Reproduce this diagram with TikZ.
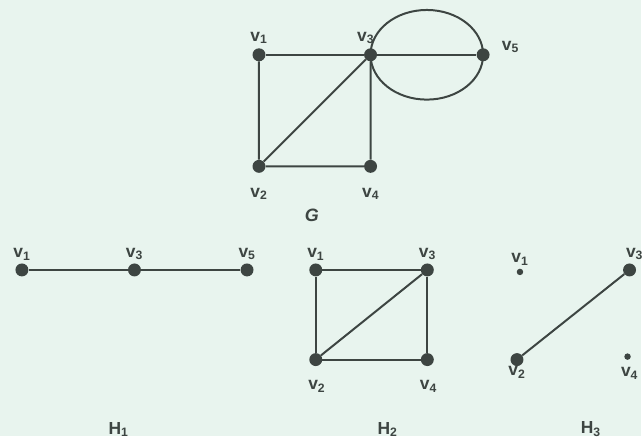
\documentclass[tikz,border=0pt]{standalone}
\usepackage{fontspec}
\setmainfont{Liberation Sans}
\usetikzlibrary{positioning}
\definecolor{ink}{RGB}{61,69,66}
\definecolor{paper}{RGB}{232,244,238}

\begin{document}
\begin{tikzpicture}[x=1pt,y=-1pt,
  vtx/.style={circle, fill=ink, inner sep=0pt, minimum size=13pt},
  pt/.style={circle, fill=ink, inner sep=0pt, minimum size=6.5pt},
  lbl/.style={text=ink, font=\fontsize{17.5}{19}\selectfont\bfseries, inner sep=1pt},
  ttl/.style={text=ink, font=\fontsize{17.5}{19}\selectfont\bfseries},
  edge/.style={draw=ink, line width=2pt}]
  \fill[paper] (0,0) rectangle (644,438);
  % graph G
  \node[vtx] (g1) at (260,55) {};
  \node[vtx] (g3) at (372,55) {};
  \node[vtx] (g5) at (485,55) {};
  \node[vtx] (g2) at (260,167) {};
  \node[vtx] (g4) at (372,167) {};
  \draw[edge] (g1) -- (g3) -- (g5);
  \draw[edge] (g1) -- (g2) -- (g4) -- (g3) -- (g2);
  \draw[edge] (428.5,55) ellipse [x radius=56.5, y radius=45];
  \node[lbl, above=3pt of g1] {v\textsubscript{1}};
  \node[lbl, above=3pt of g3, xshift=-5pt] {v\textsubscript{3}};
  \node[lbl, right=11pt of g5, yshift=8pt] {v\textsubscript{5}};
  \node[lbl, below=14pt of g2] {v\textsubscript{2}};
  \node[lbl, below=14pt of g4] {v\textsubscript{4}};
  \node[ttl, font=\fontsize{18}{20}\selectfont\bfseries\itshape] (tg) at (313,216) {G};
  % H1
  \node[vtx] (a1) at (22,271) {};
  \node[vtx] (a3) at (135,271) {};
  \node[vtx] (a5) at (248,271) {};
  \draw[edge] (a1) -- (a3) -- (a5);
  \foreach \n/\i in {a1/1, a3/3, a5/5}
    \node[lbl, above=2pt of \n] {v\textsubscript{\i}};
  \node[ttl] (th1) at (119,431) {H\textsubscript{1}};
  % H2
  \node[vtx] (b1) at (317,271) {};
  \node[vtx] (b3) at (429,271) {};
  \node[vtx] (b2) at (317,361) {};
  \node[vtx] (b4) at (429,361) {};
  \draw[edge] (b1) -- (b3) -- (b4) -- (b2) -- (b1);
  \draw[edge] (b2) -- (b3);
  \node[lbl, above=2pt of b1] {v\textsubscript{1}};
  \node[lbl, above=2pt of b3] {v\textsubscript{3}};
  \node[lbl, below=13pt of b2, xshift=1pt] {v\textsubscript{2}};
  \node[lbl, below=13pt of b4, xshift=1pt] {v\textsubscript{4}};
  \node[ttl] (th2) at (389,431) {H\textsubscript{2}};
  % H3
  \node[pt] (c1) at (522,273) {};
  \node[vtx] (c3) at (632,271) {};
  \node[vtx] (c2) at (519,361) {};
  \node[pt] (c4) at (630,358) {};
  \draw[edge] (c2) -- (c3);
  \node[lbl, above=2pt of c1] {v\textsubscript{1}};
  \node[lbl, above=2pt of c3, xshift=5pt] {v\textsubscript{3}};
  \node[lbl, below=-1pt of c2] {v\textsubscript{2}};
  \node[lbl, below=6pt of c4, xshift=2pt] {v\textsubscript{4}};
  \node[ttl] (th3) at (593,431) {H\textsubscript{3}};
\end{tikzpicture}
\end{document}
